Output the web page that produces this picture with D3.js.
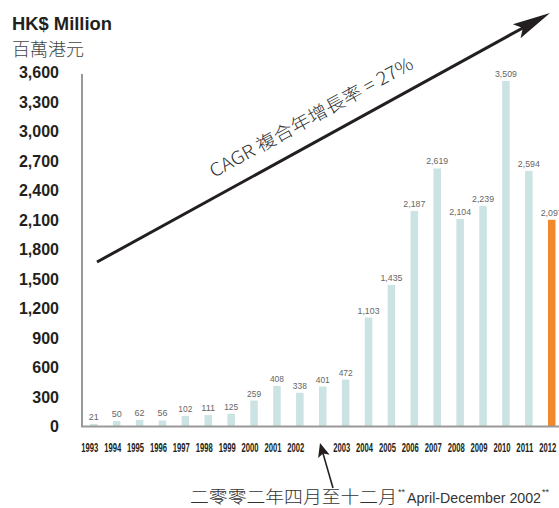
<!DOCTYPE html>
<html><head><meta charset="utf-8">
<script src="https://cdn.jsdelivr.net/npm/d3@7"></script>
<style>body{margin:0;background:#fff;}svg{display:block;}</style>
</head><body>
<svg id="c" width="559" height="508"></svg>
<script>
const categories = ["1993","1994","1995","1996","1997","1998","1999","2000","2001","2002","2002**","2003","2004","2005","2006","2007","2008","2009","2010","2011","2012"];
const values = [21,50,62,56,102,111,125,259,408,338,401,472,1103,1435,2187,2619,2104,2239,3509,2594,2097];
const yTicks = [0,300,600,900,1200,1500,1800,2100,2400,2700,3000,3300,3600];
const highlight = "2012";

const svg = d3.select("#c");
const x = d3.scaleBand().domain(categories).range([82, 563.5]).paddingInner(0.672).paddingOuter(0.35);
const y = d3.scaleLinear().domain([0,3600]).range([426,72]);
const SANS = "'Liberation Sans', Arial, sans-serif";
const CJK = "'Noto Sans CJK TC', sans-serif";

// Titles
svg.append("text").attr("x",12).attr("y",30).attr("font-family",SANS)
  .attr("font-weight","bold").attr("font-size",17.5).attr("fill","#231f20")
  .attr("textLength",100).attr("lengthAdjust","spacingAndGlyphs").text("HK$ Million");
svg.append("text").attr("x",12).attr("y",56).attr("font-family",CJK).attr("font-weight",300)
  .attr("font-size",18).attr("fill","#444").text("百萬港元");

// Y tick labels
svg.append("g").selectAll("text").data(yTicks).join("text")
  .attr("x",59).attr("y",d=>y(d)+6).attr("text-anchor","end")
  .attr("font-family",SANS).attr("font-weight","bold")
  .attr("font-size",16).attr("fill","#231f20").text(d=>d3.format(",")(d));

// Bars
svg.append("g").selectAll("rect").data(values).join("rect")
  .attr("x",(d,i)=>x(categories[i])).attr("width",x.bandwidth())
  .attr("y",d=>y(d)).attr("height",d=>y(0)-y(d))
  .attr("fill",(d,i)=>categories[i]===highlight?"#f0882e":"#cbe3e3");

// Value labels
svg.append("g").selectAll("text").data(values).join("text")
  .attr("x",(d,i)=>x(categories[i])+x.bandwidth()/2).attr("y",d=>y(d)-4)
  .attr("text-anchor","middle").attr("font-family",SANS)
  .attr("font-size",9.5).attr("fill","#666")
  .attr("textLength",d=>d>=1000?22:(d>=100?14:10)).attr("lengthAdjust","spacingAndGlyphs")
  .text(d=>d3.format(",")(d));

// Axes lines
svg.append("line").attr("x1",82).attr("x2",82).attr("y1",74).attr("y2",427).attr("stroke","#999").attr("stroke-width",2);
svg.append("line").attr("x1",81).attr("x2",559).attr("y1",426.5).attr("y2",426.5).attr("stroke","#999").attr("stroke-width",2);

// Year labels
svg.append("g").selectAll("text").data(categories.filter(c=>c!=="2002**")).join("text")
  .attr("x",c=>x(c)+x.bandwidth()/2-4).attr("y",452).attr("text-anchor","middle")
  .attr("font-family",SANS).attr("font-weight","bold")
  .attr("font-size",12).attr("fill","#231f20")
  .attr("textLength",17).attr("lengthAdjust","spacingAndGlyphs").text(c=>c);

// Big CAGR arrow
const x1=97,y1=262,x2=550,y2=13;
const a = Math.atan2(y2-y1, x2-x1);
const L = Math.hypot(x2-x1,y2-y1);
const g = svg.append("g").attr("transform",`translate(${x1},${y1}) rotate(${a*180/Math.PI})`);
g.append("line").attr("x1",0).attr("y1",0).attr("x2",L-30).attr("y2",0).attr("stroke","#231f20").attr("stroke-width",3);
g.append("path").attr("d",`M${L},0 L${L-38},-8 L${L-31},0 L${L-38},8 Z`).attr("fill","#231f20");
svg.append("text").attr("transform",`translate(214,178) rotate(${a*180/Math.PI})`)
  .attr("font-family",CJK).attr("font-weight",300)
  .attr("font-size",18).attr("fill","#333")
  .attr("textLength",229).attr("lengthAdjust","spacingAndGlyphs").text("CAGR 複合年增長率 = 27%");

// Bottom annotation arrow
const bx1=333,by1=488,bx2=320,by2=443;
const b = Math.atan2(by2-by1,bx2-bx1);
const bl = Math.hypot(bx2-bx1,by2-by1);
const g2 = svg.append("g").attr("transform",`translate(${bx1},${by1}) rotate(${b*180/Math.PI})`);
g2.append("line").attr("x1",0).attr("y1",0).attr("x2",bl-10).attr("y2",0).attr("stroke","#231f20").attr("stroke-width",1.6);
g2.append("path").attr("d",`M${bl},0 L${bl-14},-6 L${bl-11},0 L${bl-14},6 Z`).attr("fill","#231f20");

svg.append("text").attr("x",190).attr("y",503).attr("font-family",CJK).attr("font-weight",300)
  .attr("font-size",17).attr("fill","#333").attr("textLength",207).attr("lengthAdjust","spacingAndGlyphs")
  .text("二零零二年四月至十二月");
svg.append("text").attr("x",398).attr("y",495).attr("font-family",SANS).attr("font-size",9).attr("fill","#333").text("**");
svg.append("text").attr("x",407).attr("y",503).attr("font-family",SANS)
  .attr("font-size",15).attr("fill","#333").attr("textLength",134).attr("lengthAdjust","spacingAndGlyphs")
  .text("April-December 2002");
svg.append("text").attr("x",542).attr("y",495).attr("font-family",SANS).attr("font-size",9).attr("fill","#333").text("**");
</script>
</body></html>
